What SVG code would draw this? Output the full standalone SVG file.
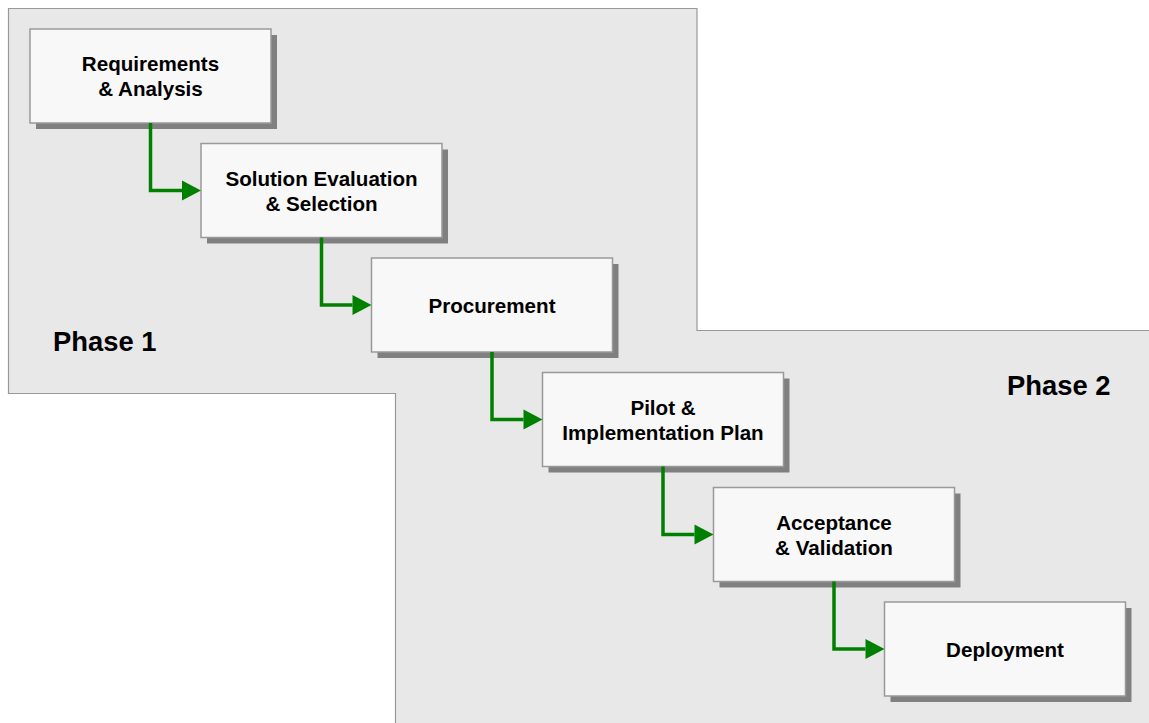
<svg xmlns="http://www.w3.org/2000/svg" width="1149" height="723" viewBox="0 0 1149 723">
<style>
.bg{fill:#ffffff}
.phase{fill:#e8e8e8;stroke:#999999;stroke-width:1.2}
.shadow{fill:#808080}
.box{fill:#f8f8f8;stroke:#999999;stroke-width:1.5}
.t{font-family:"Liberation Sans",Arial,sans-serif;font-weight:bold;font-size:20.6px;fill:#000;text-anchor:middle}
.pt{font-family:"Liberation Sans",Arial,sans-serif;font-weight:bold;font-size:27.4px;fill:#000}
.conn{fill:none;stroke:#008000;stroke-width:3.5}
</style>
<defs>
<marker id="arr" markerUnits="userSpaceOnUse" markerWidth="19" markerHeight="22" refX="0" refY="11" orient="auto" overflow="visible">
<path d="M0,1 L19,11 L0,21 Z" fill="#008000"/>
</marker>
</defs>
<rect class="bg" x="0" y="0" width="1149" height="723"/>
<g id="phases">
<path class="phase" d="M8.5,8.5 H697 V330.5 H1150 V724 H395.5 V393.5 H8.5 Z"/>
<text class="pt" x="53" y="350.5">Phase 1</text>
<text class="pt" x="1007" y="395">Phase 2</text>
</g>
<g id="node1">
<rect class="shadow" x="36" y="35" width="241" height="94"/>
<rect class="box" x="30" y="29" width="241" height="94"/>
<text class="t" x="150.5" y="71">Requirements</text>
<text class="t" x="150.5" y="96">&amp; Analysis</text>
</g>
<g id="node2">
<rect class="shadow" x="207" y="149.5" width="241" height="94"/>
<rect class="box" x="201" y="143.5" width="241" height="94"/>
<text class="t" x="321.5" y="185.5">Solution Evaluation</text>
<text class="t" x="321.5" y="210.5">&amp; Selection</text>
</g>
<g id="node3">
<rect class="shadow" x="377.5" y="264" width="241" height="94"/>
<rect class="box" x="371.5" y="258" width="241" height="94"/>
<text class="t" x="492" y="312.5">Procurement</text>
</g>
<g id="node4">
<rect class="shadow" x="548.5" y="378.5" width="241" height="94"/>
<rect class="box" x="542.5" y="372.5" width="241" height="94"/>
<text class="t" x="663" y="414.5">Pilot &amp;</text>
<text class="t" x="663" y="439.5">Implementation Plan</text>
</g>
<g id="node5">
<rect class="shadow" x="719.5" y="493.5" width="241" height="94"/>
<rect class="box" x="713.5" y="487.5" width="241" height="94"/>
<text class="t" x="834" y="529.5">Acceptance</text>
<text class="t" x="834" y="554.5">&amp; Validation</text>
</g>
<g id="node6">
<rect class="shadow" x="890.5" y="608" width="241" height="94"/>
<rect class="box" x="884.5" y="602" width="241" height="94"/>
<text class="t" x="1005" y="656.5">Deployment</text>
</g>
<g id="connectors">
<path class="conn" marker-end="url(#arr)" d="M150.5,123 V190.5 H182"/>
<path class="conn" marker-end="url(#arr)" d="M321.5,237.5 V305 H352.5"/>
<path class="conn" marker-end="url(#arr)" d="M492,352 V419.5 H523.5"/>
<path class="conn" marker-end="url(#arr)" d="M663,466.5 V534.5 H694.5"/>
<path class="conn" marker-end="url(#arr)" d="M834,581.5 V649 H865.5"/>
</g>
</svg>
